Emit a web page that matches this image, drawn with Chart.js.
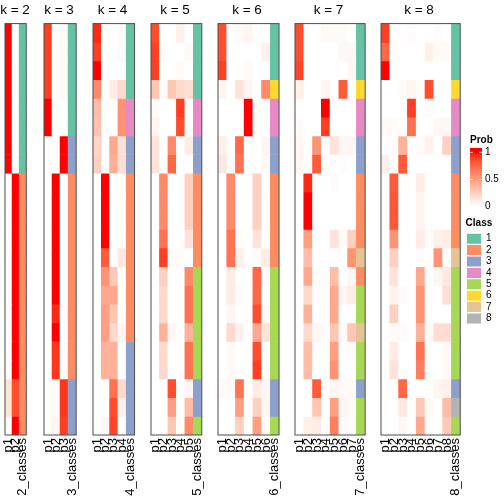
<!DOCTYPE html>
<html>
<head>
<meta charset="utf-8">
<script src="https://cdn.jsdelivr.net/npm/chart.js@4.4.1/dist/chart.umd.min.js"></script>
<style>
html, body { margin: 0; padding: 0; background: #fff; }
#wrap { position: relative; width: 504px; height: 504px; overflow: hidden; }
.box { position: absolute; top: 0; height: 504px; }
</style>
</head>
<body>
<div id="wrap"></div>
<script>
// data: one row per sample, p1..pk membership, then the class
const kValues = [2, 3, 4, 5, 6, 7, 8];

const k2Prob = [
  [1, 0], [1, 0], [1, 0], [1, 0], [1, 0], [1, 0], [1, 0], [1, 0],
  [0, 1], [0, 1], [0, 1], [0, 1], [0, 1], [0, 1], [0, 1], [0, 1], [0, 1], [0, 1], [0, 1],
  [0.15, 0.85], [0.15, 0.85], [0, 1]
];
const k2Class = [1, 1, 1, 1, 1, 1, 1, 1, 2, 2, 2, 2, 2, 2, 2, 2, 2, 2, 2, 2, 2, 2];

const k3Prob = [
  [0.9, 0, 0.03], [0.9, 0, 0.03], [0.9, 0, 0.03], [0.9, 0, 0.03],
  [1, 0, 0], [1, 0, 0], [0, 0, 1], [0, 0, 1],
  [0, 1, 0], [0, 1, 0], [0, 1, 0], [0, 1, 0], [0, 1, 0], [0, 1, 0], [0, 1, 0],
  [0, 0.95, 0.02], [0, 1, 0], [0, 0.92, 0.02], [0, 0.92, 0.02],
  [0, 0.03, 0.92], [0, 0.03, 0.92], [0, 0.05, 0.9]
];
const k3Class = [1, 1, 1, 1, 1, 1, 3, 3, 2, 2, 2, 2, 2, 2, 2, 2, 2, 2, 2, 3, 3, 3];

const k4Prob = [
  [0.95, 0, 0, 0.03], [0.9, 0, 0, 0.03], [1, 0, 0, 0], [0.6, 0, 0.1, 0.2],
  [0.35, 0, 0, 0.55], [0.32, 0, 0, 0.55], [0.22, 0, 0.45, 0.15], [0.25, 0, 0.42, 0.18],
  [0, 1, 0, 0], [0, 1, 0, 0], [0, 1, 0, 0], [0, 1, 0, 0],
  [0, 0.8, 0, 0.12], [0, 0.55, 0.28, 0], [0, 0.45, 0.45, 0], [0, 0.5, 0.3, 0],
  [0, 0.5, 0.2, 0.05], [0, 0.4, 0.4, 0], [0, 0.4, 0.4, 0],
  [0, 0, 0.7, 0.2], [0, 0, 0.85, 0.08], [0, 0.04, 0.88, 0]
];
const k4Class = [1, 1, 1, 1, 4, 4, 3, 3, 2, 2, 2, 2, 2, 2, 2, 2, 2, 3, 3, 3, 3, 3];

const k5Prob = [
  [0.85, 0, 0, 0.08, 0], [0.9, 0.02, 0, 0, 0.03], [0.9, 0, 0, 0.03, 0], [0.3, 0.02, 0.3, 0.2, 0.18],
  [0.02, 0, 0, 0.9, 0], [0.05, 0, 0, 0.85, 0], [0.15, 0, 0.6, 0, 0.1], [0.15, 0, 0.75, 0, 0],
  [0, 0.6, 0, 0, 0.25], [0, 0.6, 0, 0, 0.25], [0, 0.6, 0, 0, 0.25], [0, 0.7, 0, 0, 0.15],
  [0, 0.9, 0.02, 0.02, 0], [0, 0.25, 0, 0, 0.6], [0, 0.2, 0, 0, 0.7], [0, 0.2, 0, 0, 0.7],
  [0, 0.4, 0.05, 0, 0.4], [0, 0.2, 0, 0, 0.7], [0, 0.2, 0, 0, 0.7],
  [0, 0, 0.85, 0, 0.05], [0, 0, 0.5, 0, 0.35], [0, 0, 0.3, 0, 0.6]
];
const k5Class = [1, 1, 1, 1, 4, 4, 3, 3, 2, 2, 2, 2, 2, 5, 5, 5, 5, 5, 5, 3, 3, 5];

const k6Prob = [
  [0.85, 0, 0.03, 0.05, 0, 0], [0.85, 0, 0, 0, 0, 0.08], [0.9, 0, 0, 0.03, 0, 0], [0.05, 0, 0.15, 0.05, 0, 0.6],
  [0, 0, 0, 1, 0, 0], [0, 0, 0, 1, 0, 0], [0.08, 0, 0.75, 0, 0, 0.05], [0.12, 0.02, 0.7, 0, 0, 0.03],
  [0, 0.6, 0, 0, 0.25, 0], [0, 0.6, 0, 0, 0.25, 0], [0, 0.6, 0, 0, 0.25, 0], [0, 0.7, 0.02, 0, 0.15, 0],
  [0, 0.7, 0.08, 0, 0.02, 0.1], [0, 0.1, 0, 0, 0.75, 0.03], [0, 0.1, 0.02, 0, 0.75, 0], [0, 0.05, 0, 0, 0.85, 0.03],
  [0, 0.2, 0.08, 0, 0.45, 0.15], [0, 0.03, 0, 0, 0.85, 0], [0, 0.03, 0, 0, 0.9, 0],
  [0.03, 0.03, 0.7, 0, 0.1, 0.05], [0, 0, 0.5, 0, 0.25, 0.05], [0, 0, 0.25, 0, 0.5, 0.03]
];
const k6Class = [1, 1, 1, 6, 4, 4, 3, 3, 2, 2, 2, 2, 2, 5, 5, 5, 5, 5, 5, 3, 3, 5];

const k7Prob = [
  [0.85, 0, 0, 0.03, 0.03, 0.03, 0], [0.85, 0, 0, 0, 0, 0.04, 0.04], [0.88, 0, 0, 0, 0, 0, 0.04],
  [0.08, 0, 0, 0.05, 0, 0.8, 0], [0, 0, 0, 1, 0, 0, 0], [0.02, 0, 0, 0.9, 0, 0, 0],
  [0.05, 0, 0.55, 0, 0.15, 0.05, 0.05], [0.05, 0, 0.8, 0, 0, 0.02, 0],
  [0, 0.95, 0, 0, 0.02, 0, 0], [0, 1, 0, 0, 0, 0, 0], [0, 1, 0, 0, 0, 0, 0],
  [0, 0.5, 0, 0, 0.15, 0.03, 0.25], [0, 0.35, 0, 0, 0, 0, 0.55], [0, 0.45, 0.02, 0, 0.35, 0, 0.05],
  [0, 0.2, 0.02, 0, 0.45, 0.05, 0.1], [0, 0.4, 0, 0, 0.45, 0, 0], [0, 0.2, 0.05, 0, 0.3, 0.03, 0.3],
  [0, 0.35, 0.02, 0, 0.5, 0, 0.03], [0, 0.35, 0, 0, 0.55, 0, 0],
  [0, 0, 0.8, 0, 0.05, 0.03, 0.03], [0, 0, 0.3, 0, 0.5, 0.05, 0.03], [0, 0.08, 0.1, 0, 0.65, 0.02, 0.02]
];
const k7Class = [1, 1, 1, 6, 4, 4, 3, 3, 2, 2, 2, 2, 7, 2, 5, 5, 7, 5, 5, 3, 5, 5];

const k8Prob = [
  [0.9, 0, 0, 0.02, 0, 0, 0.02, 0], [0.75, 0.02, 0, 0, 0, 0.08, 0.03, 0.03], [1, 0, 0, 0, 0, 0, 0, 0],
  [0, 0, 0.02, 0.05, 0, 0.85, 0, 0], [0, 0, 0, 0.9, 0, 0.02, 0, 0], [0.03, 0.02, 0, 0.7, 0, 0, 0.04, 0.04],
  [0, 0, 0.4, 0, 0.02, 0.07, 0, 0.25], [0.08, 0, 0.8, 0, 0, 0, 0, 0],
  [0, 0.8, 0, 0, 0.1, 0, 0, 0], [0, 0.82, 0, 0, 0.06, 0, 0, 0], [0, 0.82, 0, 0, 0.06, 0, 0, 0],
  [0, 0.55, 0, 0, 0.1, 0.02, 0.08, 0.1], [0, 0.25, 0, 0, 0.02, 0, 0.55, 0], [0, 0.15, 0, 0, 0.45, 0, 0.05, 0.12],
  [0, 0.07, 0.02, 0, 0.55, 0, 0, 0.17], [0, 0.25, 0, 0, 0.55, 0, 0, 0], [0, 0.03, 0.02, 0, 0.4, 0.03, 0.18, 0.18],
  [0, 0.1, 0, 0, 0.7, 0, 0, 0.03], [0, 0.15, 0, 0, 0.65, 0, 0, 0.03],
  [0, 0, 0.75, 0, 0, 0, 0.05, 0.08], [0, 0, 0.12, 0, 0.28, 0.03, 0, 0.35], [0, 0, 0.04, 0, 0.45, 0, 0, 0.28]
];
const k8Class = [1, 1, 1, 6, 4, 4, 3, 3, 2, 2, 2, 2, 7, 5, 5, 5, 5, 5, 5, 3, 8, 5];

const classLabels = ['1', '2', '3', '4', '5', '6', '7', '8'];
const classColors = ['#66C2A5', '#FC8D62', '#8DA0CB', '#E78AC3', '#A6D854', '#FFD92F', '#E5C494', '#B3B3B3'];
const probTicks = [0, 0.5, 1];
const probTickLabels = ['0', '0.5', '1'];

const panels = [
  [k2Prob, k2Class], [k3Prob, k3Class], [k4Prob, k4Class], [k5Prob, k5Class],
  [k6Prob, k6Class], [k7Prob, k7Class], [k8Prob, k8Class]
];

const FONT = '"Liberation Sans", Arial, Helvetica, sans-serif';
Chart.defaults.font.family = FONT;
Chart.defaults.color = '#000';

// white -> red, interpolated in LAB like colorRamp2 does
function toLab(hex) {
  const c = [1, 3, 5].map(i => parseInt(hex.slice(i, i + 2), 16) / 255)
    .map(v => v <= 0.04045 ? v / 12.92 : Math.pow((v + 0.055) / 1.055, 2.4));
  const X = (0.4124564 * c[0] + 0.3575761 * c[1] + 0.1804375 * c[2]) / 0.95047;
  const Y = (0.2126729 * c[0] + 0.7151522 * c[1] + 0.0721750 * c[2]);
  const Z = (0.0193339 * c[0] + 0.1191920 * c[1] + 0.9503041 * c[2]) / 1.08883;
  const f = t => t > 0.008856 ? Math.cbrt(t) : 7.787 * t + 16 / 116;
  return [116 * f(Y) - 16, 500 * (f(X) - f(Y)), 200 * (f(Y) - f(Z))];
}
function fromLab(L, a, b) {
  const fy = (L + 16) / 116, fx = fy + a / 500, fz = fy - b / 200;
  const inv = t => t * t * t > 0.008856 ? t * t * t : (t - 16 / 116) / 7.787;
  const X = 0.95047 * inv(fx), Y = inv(fy), Z = 1.08883 * inv(fz);
  const lin = [
    3.2404542 * X - 1.5371385 * Y - 0.4985314 * Z,
    -0.9692660 * X + 1.8760108 * Y + 0.0415560 * Z,
    0.0556434 * X - 0.2040259 * Y + 1.0572252 * Z
  ];
  const rgb = lin.map(v => {
    v = Math.min(1, Math.max(0, v));
    v = v <= 0.0031308 ? 12.92 * v : 1.055 * Math.pow(v, 1 / 2.4) - 0.055;
    return Math.round(v * 255);
  });
  return 'rgb(' + rgb.join(',') + ')';
}
const labLo = toLab('#FFFFFF');
const labHi = toLab('#FF0000');
function probColor(v) {
  return fromLab(
    labLo[0] + (labHi[0] - labLo[0]) * v,
    labLo[1] + (labHi[1] - labLo[1]) * v,
    labLo[2] + (labHi[2] - labLo[2]) * v
  );
}

const framePlugin = {
  id: 'frame',
  afterDatasetsDraw(chart) {
    const a = chart.chartArea;
    const ctx = chart.ctx;
    ctx.save();
    ctx.strokeStyle = '#4d4d4d';
    ctx.lineWidth = 1;
    ctx.strokeRect(a.left, a.top, a.right - a.left, a.bottom - a.top);
    ctx.restore();
  }
};

const wrap = document.getElementById('wrap');
const colW = 9.35, gap = 11.2, padL = 18, padR = 10;
const bodyTop = 23.6, bodyBottom = 435;

function hiddenAxis(pos, size, extra) {
  return Object.assign({
    position: pos,
    display: true,
    ticks: { display: false },
    grid: { display: false, drawTicks: false },
    border: { display: false },
    afterFit(s) { s.width = size; }
  }, extra);
}

let x0 = 5;
kValues.forEach((k, p) => {
  const prob = panels[p][0], cls = panels[p][1];
  const left = Math.round(x0);
  const right = Math.round(x0 + (k + 1) * colW);
  x0 += (k + 1) * colW + gap;

  const div = document.createElement('div');
  div.className = 'box';
  div.style.left = (left - padL) + 'px';
  div.style.width = (right - left + padL + padR) + 'px';
  const canvas = document.createElement('canvas');
  div.appendChild(canvas);
  wrap.appendChild(div);

  const labels = [];
  for (let j = 1; j <= k; j++) labels.push('p' + j);
  labels.push(k + '_classes');

  const datasets = prob.map((row, i) => ({
    data: labels.map(() => 1),
    backgroundColor: row.map(probColor).concat(classColors[cls[i] - 1]),
    borderWidth: 0,
    categoryPercentage: 1,
    barPercentage: 1
  }));

  new Chart(canvas, {
    type: 'bar',
    data: { labels: labels, datasets: datasets },
    options: {
      animation: false,
      responsive: true,
      maintainAspectRatio: false,
      layout: { padding: 0 },
      scales: {
        x: {
          stacked: true,
          grid: { display: false, drawTicks: false },
          border: { display: false },
          ticks: {
            autoSkip: false, minRotation: 90, maxRotation: 90, padding: 3,
            color: '#000', font: { size: 13 }
          },
          afterFit(s) { s.height = 504 - bodyBottom; }
        },
        y: hiddenAxis('left', padL, { type: 'linear', stacked: true, min: 0, max: prob.length, reverse: true }),
        yR: hiddenAxis('right', padR, { type: 'linear' })
      },
      plugins: {
        legend: { display: false },
        tooltip: { enabled: false },
        title: {
          display: true, text: 'k = ' + k, color: '#000',
          font: { size: 13.5, weight: 'normal' },
          padding: { top: 2.5, bottom: bodyTop - 2.5 - 13.5 * 1.2 }
        }
      }
    },
    plugins: [framePlugin]
  });
});

// legend: Prob colour bar (drawn here) and Class keys (Chart.js legend)
const probBarPlugin = {
  id: 'probBar',
  afterDraw(chart) {
    const ctx = chart.ctx;
    const bx = 10, bw = 12, yTop = 18, yBot = 80, yOne = 22.3, yZero = 76.7;
    ctx.save();
    ctx.fillStyle = '#000';
    ctx.font = 'bold 10px ' + FONT;
    ctx.textBaseline = 'middle';
    ctx.textAlign = 'left';
    ctx.fillText('Prob', bx, 10);
    for (let y = yTop; y < yBot; y++) {
      const v = Math.min(1, Math.max(0, (yZero - (y + 0.5)) / (yZero - yOne)));
      ctx.fillStyle = probColor(v);
      ctx.fillRect(bx, y, bw, 1);
    }
    ctx.font = '10px ' + FONT;
    probTicks.forEach((v, i) => {
      const y = yZero - v * (yZero - yOne);
      ctx.fillStyle = 'rgba(255,255,255,0.8)';
      ctx.fillRect(bx, y - 0.5, 3, 1);
      ctx.fillRect(bx + bw - 3, y - 0.5, 3, 1);
      ctx.fillStyle = '#000';
      ctx.fillText(probTickLabels[i], bx + bw + 3, y);
    });
    ctx.restore();
  }
};

const lDiv = document.createElement('div');
lDiv.className = 'box';
lDiv.style.left = '460px';
lDiv.style.top = '130px';
lDiv.style.width = '100px';
lDiv.style.height = '260px';
const lCanvas = document.createElement('canvas');
lDiv.appendChild(lCanvas);
wrap.appendChild(lDiv);

new Chart(lCanvas, {
  type: 'bar',
  data: {
    labels: [],
    datasets: classLabels.map((l, i) => ({ label: l, data: [], backgroundColor: classColors[i], borderWidth: 0 }))
  },
  options: {
    animation: false,
    responsive: true,
    maintainAspectRatio: false,
    layout: { padding: { top: 88, left: 5.6, right: 0, bottom: 0 } },
    scales: { x: { display: false }, y: { display: false } },
    plugins: {
      tooltip: { enabled: false },
      legend: {
        position: 'left',
        align: 'start',
        title: {
          display: true, text: 'Class', color: '#000', position: 'start',
          font: { size: 10, weight: 'bold' }, padding: { top: 0, bottom: 2.3 }
        },
        labels: { boxWidth: 14, boxHeight: 10, padding: 1.4, color: '#000', font: { size: 10 } }
      }
    }
  },
  plugins: [probBarPlugin]
});
</script>
</body>
</html>
